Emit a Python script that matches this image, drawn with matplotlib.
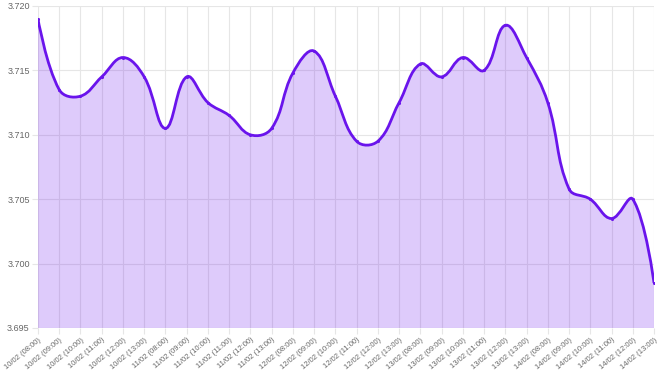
import matplotlib.pyplot as plt
from matplotlib.path import Path
from matplotlib.patches import PathPatch
import numpy as np

plt.rcParams['font.family'] = ['Liberation Sans', 'DejaVu Sans']

days = ["10/02", "11/02", "12/02", "13/02", "14/02"]
hours = ["08:00", "09:00", "10:00", "11:00", "12:00", "13:00"]
labels = ["%s (%s)" % (d, h) for d in days for h in hours]

values = [3.7190, 3.7135, 3.7130, 3.7145, 3.7160, 3.7145,
          3.7105, 3.7145, 3.7125, 3.7115, 3.7100, 3.7105,
          3.7148, 3.7165, 3.7130, 3.7095, 3.7095, 3.7125,
          3.7155, 3.7145, 3.7160, 3.7150, 3.7185, 3.7160,
          3.7125, 3.7058, 3.7050, 3.7035, 3.7050, 3.6985]

LINE = "#6a14ec"
FILL = (0.42, 0.08, 0.93, 0.22)
GRID = "#e6e6e6"
TXT = "#666666"

fig = plt.figure(figsize=(6.61, 3.76), dpi=100)
ax = fig.add_axes([38 / 661, 1 - 328 / 376, 616 / 661, 322 / 376])
ax.set_xlim(0, len(values) - 1)
ax.set_ylim(3.695, 3.720)

# chart.js style bezier curve, control points worked out in pixel space
x = np.arange(len(values), dtype=float)
y = np.array(values)
pts = ax.transData.transform(np.column_stack([x, y]))
tension = 0.4
n = len(pts)
cp_prev = pts.copy()
cp_next = pts.copy()
for i in range(1, n - 1):
    p0, p1, p2 = pts[i - 1], pts[i], pts[i + 1]
    d01 = np.hypot(*(p1 - p0))
    d12 = np.hypot(*(p2 - p1))
    s01 = d01 / (d01 + d12)
    s12 = d12 / (d01 + d12)
    cp_prev[i] = p1 - tension * s01 * (p2 - p0)
    cp_next[i] = p1 + tension * s12 * (p2 - p0)

inv = ax.transData.inverted()
cp_prev = inv.transform(cp_prev)
cp_next = inv.transform(cp_next)
data_pts = np.column_stack([x, y])

verts = [data_pts[0]]
codes = [Path.MOVETO]
for i in range(1, n):
    verts += [cp_next[i - 1], cp_prev[i], data_pts[i]]
    codes += [Path.CURVE4] * 3

fill_verts = verts + [(x[-1], 3.695), (x[0], 3.695), data_pts[0]]
fill_codes = codes + [Path.LINETO, Path.LINETO, Path.CLOSEPOLY]

ax.add_patch(PathPatch(Path(fill_verts, fill_codes), facecolor=FILL,
                       edgecolor="none", zorder=2))
ax.add_patch(PathPatch(Path(verts, codes), facecolor="none",
                       edgecolor=LINE, lw=2.0, zorder=3))
ax.scatter(x, y, s=5, color=LINE, zorder=4, linewidths=0)

ax.set_yticks([3.695, 3.700, 3.705, 3.710, 3.715, 3.720])
ax.set_yticklabels(["%.3f" % v for v in ax.get_yticks()])
ax.set_xticks(x)
ax.set_xticklabels(labels, rotation=40, ha="right", rotation_mode="anchor")
ax.tick_params(axis="both", colors=GRID, labelcolor=TXT, length=4, width=0.8)
ax.tick_params(axis="x", labelsize=5.5, pad=2)
ax.tick_params(axis="y", labelsize=6.5, pad=2)
ax.grid(True, color=GRID, lw=0.8, zorder=1)
ax.set_axisbelow(True)
for s in ax.spines.values():
    s.set_visible(False)

fig.savefig("out.png", dpi=100)
